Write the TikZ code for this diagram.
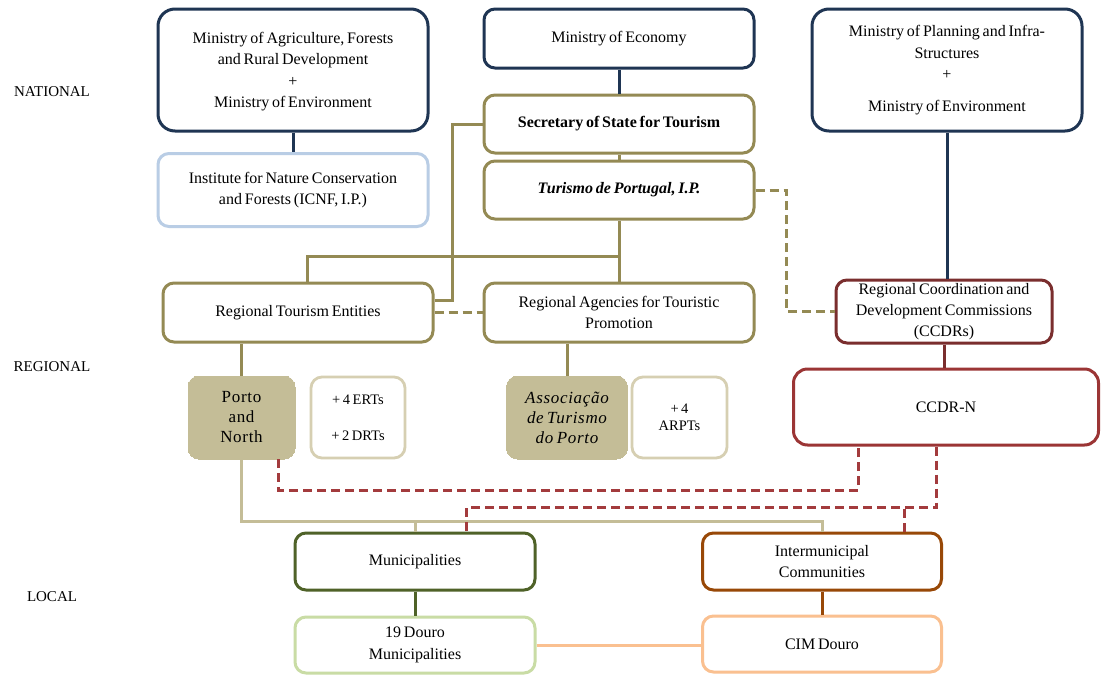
\documentclass[tikz,border=0pt]{standalone}
\usepackage{fontspec}
\setmainfont{Liberation Serif}[WordSpace=0.7]
\definecolor{navy}{HTML}{1F3553}
\definecolor{olive}{HTML}{948A54}
\definecolor{lblue}{HTML}{B9CDE5}
\definecolor{dred}{HTML}{7A2E2E}
\definecolor{mred}{HTML}{9B3535}
\definecolor{rdash}{HTML}{A33B3D}
\definecolor{tan}{HTML}{C4BD97}
\definecolor{ltan}{HTML}{D6CFB2}
\definecolor{dgreen}{HTML}{4F6228}
\definecolor{brown}{HTML}{984807}
\definecolor{lgreen}{HTML}{C9DCA5}
\definecolor{peach}{HTML}{FAC090}
\begin{document}
\begin{tikzpicture}[x=1pt,y=-1pt,
  box/.style={draw, rounded corners=11pt, line width=3pt, fill=white, inner sep=0pt,
    align=center, font=\fontsize{16}{21.5}\selectfont},
  bigbox/.style={box, rounded corners=17pt},
  small/.style={box, line width=2.8pt, draw=ltan, font=\fontsize{14.5}{17}\selectfont},
  filled/.style={box, line width=0pt, draw=tan, fill=tan, font=\fontsize{17}{20}\selectfont\addfontfeature{LetterSpace=4}},
  lbl/.style={font=\fontsize{15}{18}\selectfont, anchor=base},
  conn/.style={line width=3pt},
  dsh/.style={line width=3pt, dash pattern=on 9pt off 5pt}
]
\fill[white] (0,0) rectangle (1101,675);
\useasboundingbox (0,0) rectangle (1101,675);

% labels
\node[lbl] (nat) at (52,96) {NATIONAL};
\node[lbl] (reg) at (52,371) {REGIONAL};
\node[lbl] (loc) at (52,601) {LOCAL};

% national
\node[bigbox, draw=navy, minimum width=270pt, minimum height=122pt, text depth=-5pt] (minagri) at (293,70)
  {Ministry of Agriculture, Forests\\and Rural Development\\+\\Ministry of Environment};
\node[box, draw=navy, minimum width=270pt, minimum height=59pt] (minecon) at (619,38.5)
  {Ministry of Economy};
\node[bigbox, draw=navy, minimum width=270pt, minimum height=122pt] (minplan) at (947,70)
  {Ministry of Planning and Infra-\\Structures\\+\\[10pt]Ministry of Environment};
\node[box, draw=lblue, minimum width=270pt, minimum height=73pt] (icnf) at (293,190)
  {Institute for Nature Conservation\\and Forests (ICNF, I.P.)};
\node[box, draw=olive, minimum width=270pt, minimum height=58pt] (sec) at (619,124)
  {\bfseries Secretary of State for Tourism};
\node[box, draw=olive, minimum width=270pt, minimum height=58pt] (tdp) at (619,190)
  {\bfseries\itshape Turismo de Portugal, I.P.};

% regional
\node[box, draw=olive, minimum width=270pt, minimum height=59pt] (rte) at (298,312.5)
  {Regional Tourism Entities};
\node[box, draw=olive, minimum width=270pt, minimum height=59pt] (ratp) at (619,312.5)
  {Regional Agencies for Touristic\\Promotion};
\node[box, draw=dred, minimum width=216pt, minimum height=63pt, font=\fontsize{16}{21}\selectfont] (ccdrs) at (944,311.5)
  {Regional Coordination and\\Development Commissions\\(CCDRs)};
\node[box, draw=mred, rounded corners=14pt, minimum width=305pt, minimum height=76pt] (ccdrn) at (946,407)
  {CCDR-N};
\node[filled, minimum width=107pt, minimum height=83pt] (porto) at (241.5,417.5)
  {Porto\\and\\North};
\node[small, minimum width=94pt, minimum height=81pt, font=\fontsize{14.5}{36}\selectfont] (erts) at (358,417.5)
  {+ 4 ERTs\\+ 2 DRTs};
\node[filled, minimum width=121pt, minimum height=83pt] (assoc) at (567,417.5)
  {\itshape Associação\\\itshape de Turismo\\\itshape do Porto};
\node[small, minimum width=95pt, minimum height=81pt] (arpts) at (679.5,417.5)
  {+ 4\\ARPTs};

% local
\node[box, draw=dgreen, minimum width=240pt, minimum height=57pt] (mun) at (415,561.5)
  {Municipalities};
\node[box, draw=brown, minimum width=239pt, minimum height=57pt] (intm) at (822,561.5)
  {Intermunicipal\\Communities};
\node[box, draw=lgreen, minimum width=240pt, minimum height=56pt] (d19) at (415,645)
  {19 Douro\\Municipalities};
\node[box, draw=peach, minimum width=239pt, minimum height=56pt] (cim) at (822,644)
  {CIM Douro};

% connectors national
\draw[conn, navy] (minagri.south) -- (icnf.north);
\draw[conn, navy] (minecon.south) -- (sec.north);
\draw[conn, navy] (minplan.south) -- (minplan.south |- ccdrs.north);
\draw[conn, olive] (sec.south) -- (tdp.north);
\coordinate (j1) at (452,300);
\draw[conn, olive] (sec.west) -| (j1) -- (j1 -| rte.east);
\draw[conn, olive] (tdp.south) -- (ratp.north);
\coordinate (j2) at (307,256);
\draw[conn, olive] (j2 -| tdp.south) -- (j2) -- (j2 |- rte.north);
\draw[dsh, olive] (rte.east) -- (ratp.west);
\draw[dsh, olive] (tdp.east) -| ([xshift=-48pt]ccdrs.west) -- (ccdrs.west);

% regional
\draw[conn, olive] (porto.north |- rte.south) -- (porto.north);
\draw[conn, olive] (assoc.north |- ratp.south) -- (assoc.north);
\draw[conn, dred] (ccdrs.south) -- (ccdrs.south |- ccdrn.north);

% local
\coordinate (t1) at (241.5,521);
\draw[conn, tan] (porto.south) -- (t1) -| (intm.north);
\draw[conn, tan] (t1 -| mun.north) -- (mun.north);
\coordinate (r1) at (858,490);
\draw[dsh, rdash] ([xshift=36.5pt]porto.south) |- (r1) -- (r1 |- ccdrn.south);
\coordinate (r2) at (936.5,507.5);
\draw[dsh, rdash] (r2 |- ccdrn.south) -- (r2) -| ([xshift=51pt]mun.north);
\draw[dsh, rdash] ([xshift=82pt]intm.north) -- ([xshift=82pt]intm.north |- r2);
\draw[conn, dgreen] (mun.south) -- (d19.north);
\draw[conn, brown] (intm.south) -- (cim.north);
\draw[conn, peach] (d19.east) -- (d19.east -| cim.west);
\end{tikzpicture}
\end{document}
